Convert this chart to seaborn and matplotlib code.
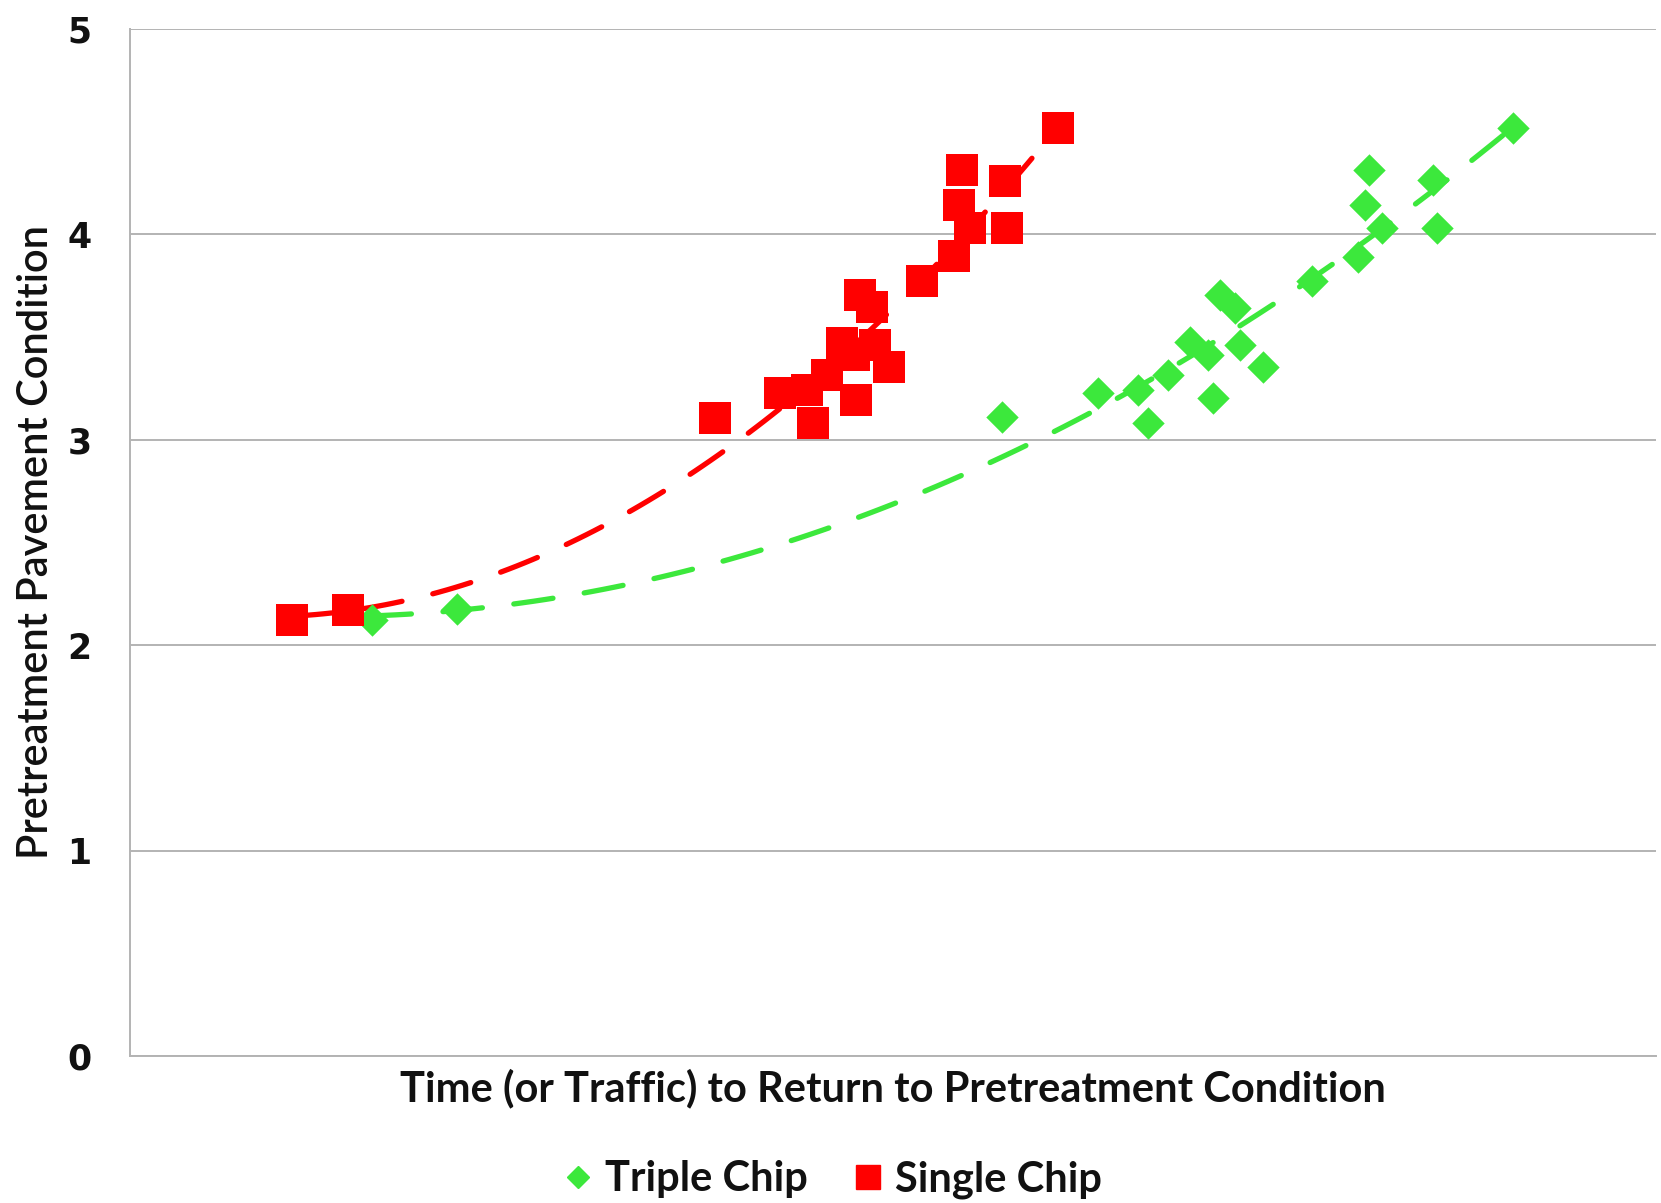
import matplotlib
matplotlib.use("Agg")
import matplotlib.pyplot as plt
from matplotlib.lines import Line2D
import seaborn as sns
import pandas as pd

# ---- data ----
single_x = [0.637, 0.858, 2.300, 2.556, 2.660, 2.684, 2.739, 2.798, 2.846, 2.855, 2.872,
            2.916, 2.930, 2.985, 3.116, 3.240, 3.260, 3.270, 3.304, 3.441, 3.447, 3.650]
single_y = [2.122, 2.171, 3.105, 3.225, 3.240, 3.080, 3.314, 3.470, 3.411, 3.195, 3.704,
            3.643, 3.462, 3.355, 3.772, 3.894, 4.142, 4.312, 4.028, 4.259, 4.028, 4.515]
triple_x = [0.950, 1.284, 3.430, 3.808, 3.965, 4.005, 4.083, 4.169, 4.241, 4.258, 4.287,
            4.346, 4.366, 4.455, 4.650, 4.831, 4.857, 4.874, 4.923, 5.126, 5.139, 5.441]
triple_y = [2.122, 2.174, 3.110, 3.228, 3.241, 3.079, 3.314, 3.476, 3.411, 3.201, 3.704,
            3.639, 3.460, 3.355, 3.772, 3.890, 4.142, 4.312, 4.028, 4.263, 4.028, 4.515]
series_names = ["Triple Chip", "Single Chip"]
y_ticks = [0, 1, 2, 3, 4, 5]
x_ticks = [0, 1, 2, 3, 4, 5, 6]
x_label = "Time (or Traffic) to Return to Pretreatment Condition"
y_label = "Pretreatment Pavement Condition"

GREEN = "#3ce83c"
RED = "#ff0000"

df = pd.concat([
    pd.DataFrame({"x": triple_x, "y": triple_y, "Treatment": series_names[0]}),
    pd.DataFrame({"x": single_x, "y": single_y, "Treatment": series_names[1]}),
], ignore_index=True)

sns.set_style("white")
plt.rcParams["font.family"] = ["Lato", "DejaVu Sans"]

fig = plt.figure(figsize=(16.61, 12.03), dpi=100)
ax = fig.add_axes([0.0785, 0.1222, 0.9182, 0.854])

# trend lines (2nd order polynomial)
for name, col in zip(series_names, [GREEN, RED]):
    sub = df[df["Treatment"] == name]
    sns.regplot(data=sub, x="x", y="y", order=2, ci=None, scatter=False, truncate=True,
                ax=ax, line_kws=dict(color=col, lw=3.8, ls=(0, (7.5, 6)),
                                     dash_capstyle="round", zorder=2))

# points
sns.scatterplot(data=df[df["Treatment"] == series_names[0]], x="x", y="y", marker="D",
                color=GREEN, s=16.5 ** 2, linewidth=0, ax=ax, zorder=3, legend=False)
sns.scatterplot(data=df[df["Treatment"] == series_names[1]], x="x", y="y", marker="s",
                color=RED, s=23 ** 2, linewidth=0, ax=ax, zorder=3, legend=False)

ax.set_xlim(0, 6)
ax.set_ylim(0, 5)
ax.set_xticks(x_ticks)
ax.set_xticklabels([])
ax.set_yticks(y_ticks)
ax.set_yticklabels([str(v) for v in y_ticks], fontfamily="DejaVu Sans",
                   fontweight="bold", fontsize=25, color="#111111")
ax.yaxis.grid(True, color="#b3b3b3", lw=1.4)
ax.xaxis.grid(False)
ax.set_axisbelow(True)
for s in ["top", "right"]:
    ax.spines[s].set_visible(False)
for s in ["left", "bottom"]:
    ax.spines[s].set_color("#b3b3b3")
    ax.spines[s].set_linewidth(1.4)
ax.tick_params(axis="both", direction="out", length=6, width=1.2, color="#b3b3b3")
ax.tick_params(axis="y", pad=22)
ax.tick_params(axis="x", pad=2)

ax.set_xlabel(x_label, fontsize=30, fontweight="bold", color="#111111")
ax.xaxis.set_label_coords(0.5, -0.032)
ax.xaxis.label.set_va("center")
ax.set_ylabel(y_label, fontsize=30, color="#111111", fontweight="semibold")
ax.yaxis.set_label_coords(-0.062, 0.5)
ax.yaxis.label.set_va("center")

handles = [Line2D([], [], marker="D", color=GREEN, ls="none", markersize=11),
           Line2D([], [], marker="s", color=RED, ls="none", markersize=17)]
fig.legend(handles, series_names, loc="center", bbox_to_anchor=(0.4995, 0.0195),
           ncol=2, frameon=False, handletextpad=0.15, columnspacing=0.95,
           handlelength=1.0, prop=dict(size=30, weight="bold"), labelcolor="#111111")

fig.savefig("out.png", dpi=100)
